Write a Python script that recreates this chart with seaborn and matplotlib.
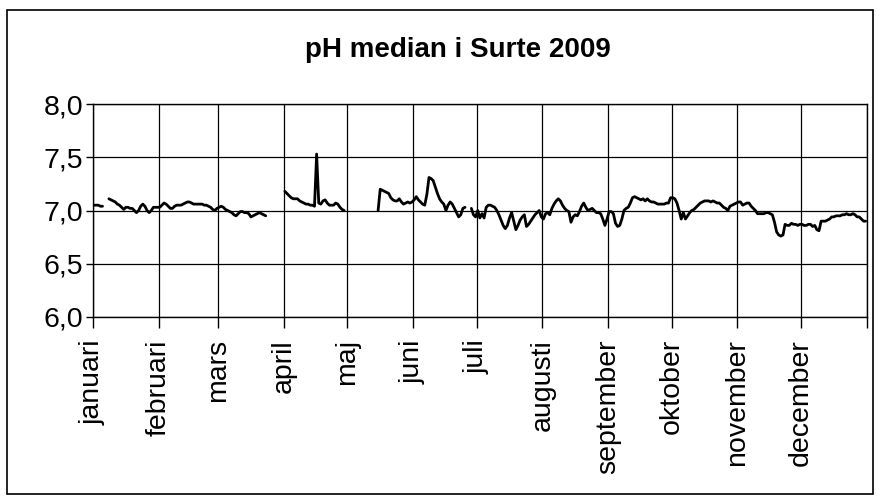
import numpy as np
import pandas as pd
import matplotlib
matplotlib.use("Agg")
import matplotlib.pyplot as plt
from matplotlib.patches import Rectangle
import seaborn as sns

nan = np.nan

# daily pH medians, one list per month (nan = no data)
jan = [7.05, 7.05, 7.05, 7.04, 7.04, nan, nan, 7.11, 7.10, 7.09, 7.08, 7.06, 7.05, 7.03, 7.01, 7.03,
       7.03, 7.02, 7.02, 7.00, 6.98, 7.00, 7.04, 7.06, 7.04, 7.00, 6.98, 7.00, 7.03, 7.03, 7.03]
feb = [7.03, 7.05, 7.07, 7.06, 7.04, 7.02, 7.02, 7.04, 7.05, 7.05, 7.05, 7.06, 7.07, 7.08,
       7.08, 7.07, 7.06, 7.06, 7.06, 7.06, 7.06, 7.05, 7.05, 7.04, 7.03, 7.01, 7.00, 7.02]
mar = [7.03, 7.04, 7.03, 7.01, 7.00, 6.99, 6.98, 6.96, 6.95, 6.97, 6.99, 6.99, 6.98, 6.98, 6.97, 6.94,
       6.95, 6.96, 6.97, 6.98, 6.97, 6.96, 6.95, nan, nan, nan, nan, nan, nan, nan, nan]
apr = [7.18, 7.16, 7.14, 7.12, 7.11, 7.11, 7.11, 7.09, 7.08, 7.07, 7.06, 7.06, 7.05, 7.05, 7.04,
       7.53, 7.07, 7.06, 7.09, 7.10, 7.07, 7.05, 7.05, 7.05, 7.07, 7.06, 7.03, 7.01, 7.00, nan]
may = [nan, nan, nan, nan, nan, nan, nan, nan, nan, nan, nan, nan, nan, nan, 7.00, 7.20,
       7.19, 7.18, 7.17, 7.16, 7.12, 7.10, 7.09, 7.09, 7.11, 7.08, 7.06, 7.07, 7.08, 7.07, 7.08]
jun = [7.10, 7.13, 7.10, 7.08, 7.06, 7.05, 7.15, 7.31, 7.30, 7.28, 7.22, 7.16, 7.11, 7.08, 7.06,
       7.00, 7.05, 7.08, 7.06, 7.02, 6.98, 6.94, 6.96, 7.02, 7.03, nan, nan, 7.02, 6.96, 6.94]
jul = [7.00, 6.93, 6.97, 6.93, 7.03, 7.05, 7.05, 7.04, 7.03, 7.00, 6.96, 6.91, 6.86, 6.83, 6.86, 6.93,
       6.98, 6.90, 6.82, 6.86, 6.91, 6.94, 6.96, 6.85, 6.87, 6.90, 6.93, 6.96, 6.98, 7.00, 6.94]
aug = [6.92, 6.97, 6.98, 6.96, 7.02, 7.06, 7.09, 7.11, 7.09, 7.05, 7.02, 7.00, 6.99, 6.89, 6.94, 6.96,
       6.95, 6.99, 7.04, 7.07, 7.03, 7.00, 7.01, 7.02, 7.00, 6.98, 6.98, 6.97, 6.92, 6.86, 6.92]
sep = [6.99, 6.99, 6.97, 6.88, 6.85, 6.86, 6.92, 7.00, 7.02, 7.03, 7.07, 7.12, 7.13, 7.12, 7.11,
       7.10, 7.11, 7.09, 7.11, 7.09, 7.08, 7.08, 7.07, 7.06, 7.06, 7.06, 7.06, 7.07, 7.07, 7.12]
okt = [7.12, 7.11, 7.07, 7.00, 6.92, 6.98, 6.92, 6.95, 6.98, 7.00, 7.01, 7.03, 7.05, 7.07, 7.08, 7.09,
       7.09, 7.09, 7.08, 7.09, 7.08, 7.07, 7.07, 7.05, 7.03, 7.02, 7.00, 7.04, 7.05, 7.06, 7.07]
nov = [7.08, 7.08, 7.05, 7.06, 7.07, 7.07, 7.04, 7.02, 7.00, 6.97, 6.97, 6.97, 6.97, 6.98, 6.98,
       6.97, 6.96, 6.89, 6.80, 6.77, 6.76, 6.77, 6.87, 6.86, 6.86, 6.88, 6.87, 6.87, 6.86, 6.87]
dec = [6.87, 6.86, 6.86, 6.87, 6.87, 6.85, 6.86, 6.82, 6.81, 6.90, 6.90, 6.90, 6.91, 6.92, 6.94, 6.94,
       6.95, 6.95, 6.95, 6.96, 6.96, 6.97, 6.96, 6.96, 6.97, 6.96, 6.94, 6.94, 6.92, 6.90, 6.90]

months = ["januari", "februari", "mars", "april", "maj", "juni",
          "juli", "augusti", "september", "oktober", "november", "december"]
month_data = [jan, feb, mar, apr, may, jun, jul, aug, sep, okt, nov, dec]

values = np.concatenate([np.array(m, dtype=float) for m in month_data])
month_starts = np.concatenate([[0], np.cumsum([len(m) for m in month_data])])

df = pd.DataFrame({"day": np.arange(len(values)) + 0.5, "ph": values})
# split into contiguous pieces so gaps stay gaps
df["segment"] = df["ph"].isna().cumsum()
df = df.dropna()

sns.set_theme(style="white")
plt.rcParams["font.family"] = ["Liberation Sans", "DejaVu Sans"]

fig = plt.figure(figsize=(8.79, 5.0), dpi=100)
ax = fig.add_axes([0.1058, 0.366, 0.8802, 0.426])

sns.lineplot(data=df, x="day", y="ph", units="segment", estimator=None,
             color="black", linewidth=2.0, ax=ax)

ax.set_xlim(0, month_starts[-1])
ax.set_ylim(6.0, 8.0)
yt = [6.0, 6.5, 7.0, 7.5, 8.0]
ax.set_yticks(yt)
ax.set_yticklabels([f"{v:.1f}".replace(".", ",") for v in yt])
ax.set_xticks(month_starts)
ax.set_xticklabels(months + [""], rotation=90, ha="center", va="top")
ax.grid(True, color="black", linewidth=0.9)
ax.set_axisbelow(True)
for s in ax.spines.values():
    s.set_color("black")
    s.set_linewidth(1.0)
ax.tick_params(axis="x", direction="out", length=8, width=1, color="black", pad=8, labelsize=20.5, labelcolor="black")
ax.tick_params(axis="y", direction="out", length=5, width=1, color="black", pad=2, labelsize=20.5, labelcolor="black")
ax.tick_params(bottom=True, left=True)
ax.set_xlabel("")
ax.set_ylabel("")

fig.text(0.521, 0.9, "pH median i Surte 2009", ha="center", va="center",
         fontsize=20, fontweight="bold", color="black")
fig.patches.append(Rectangle((0.008, 0.012), 0.985, 0.968, transform=fig.transFigure,
                             fill=False, edgecolor="black", linewidth=1.2))

fig.savefig("out.png", dpi=100)
